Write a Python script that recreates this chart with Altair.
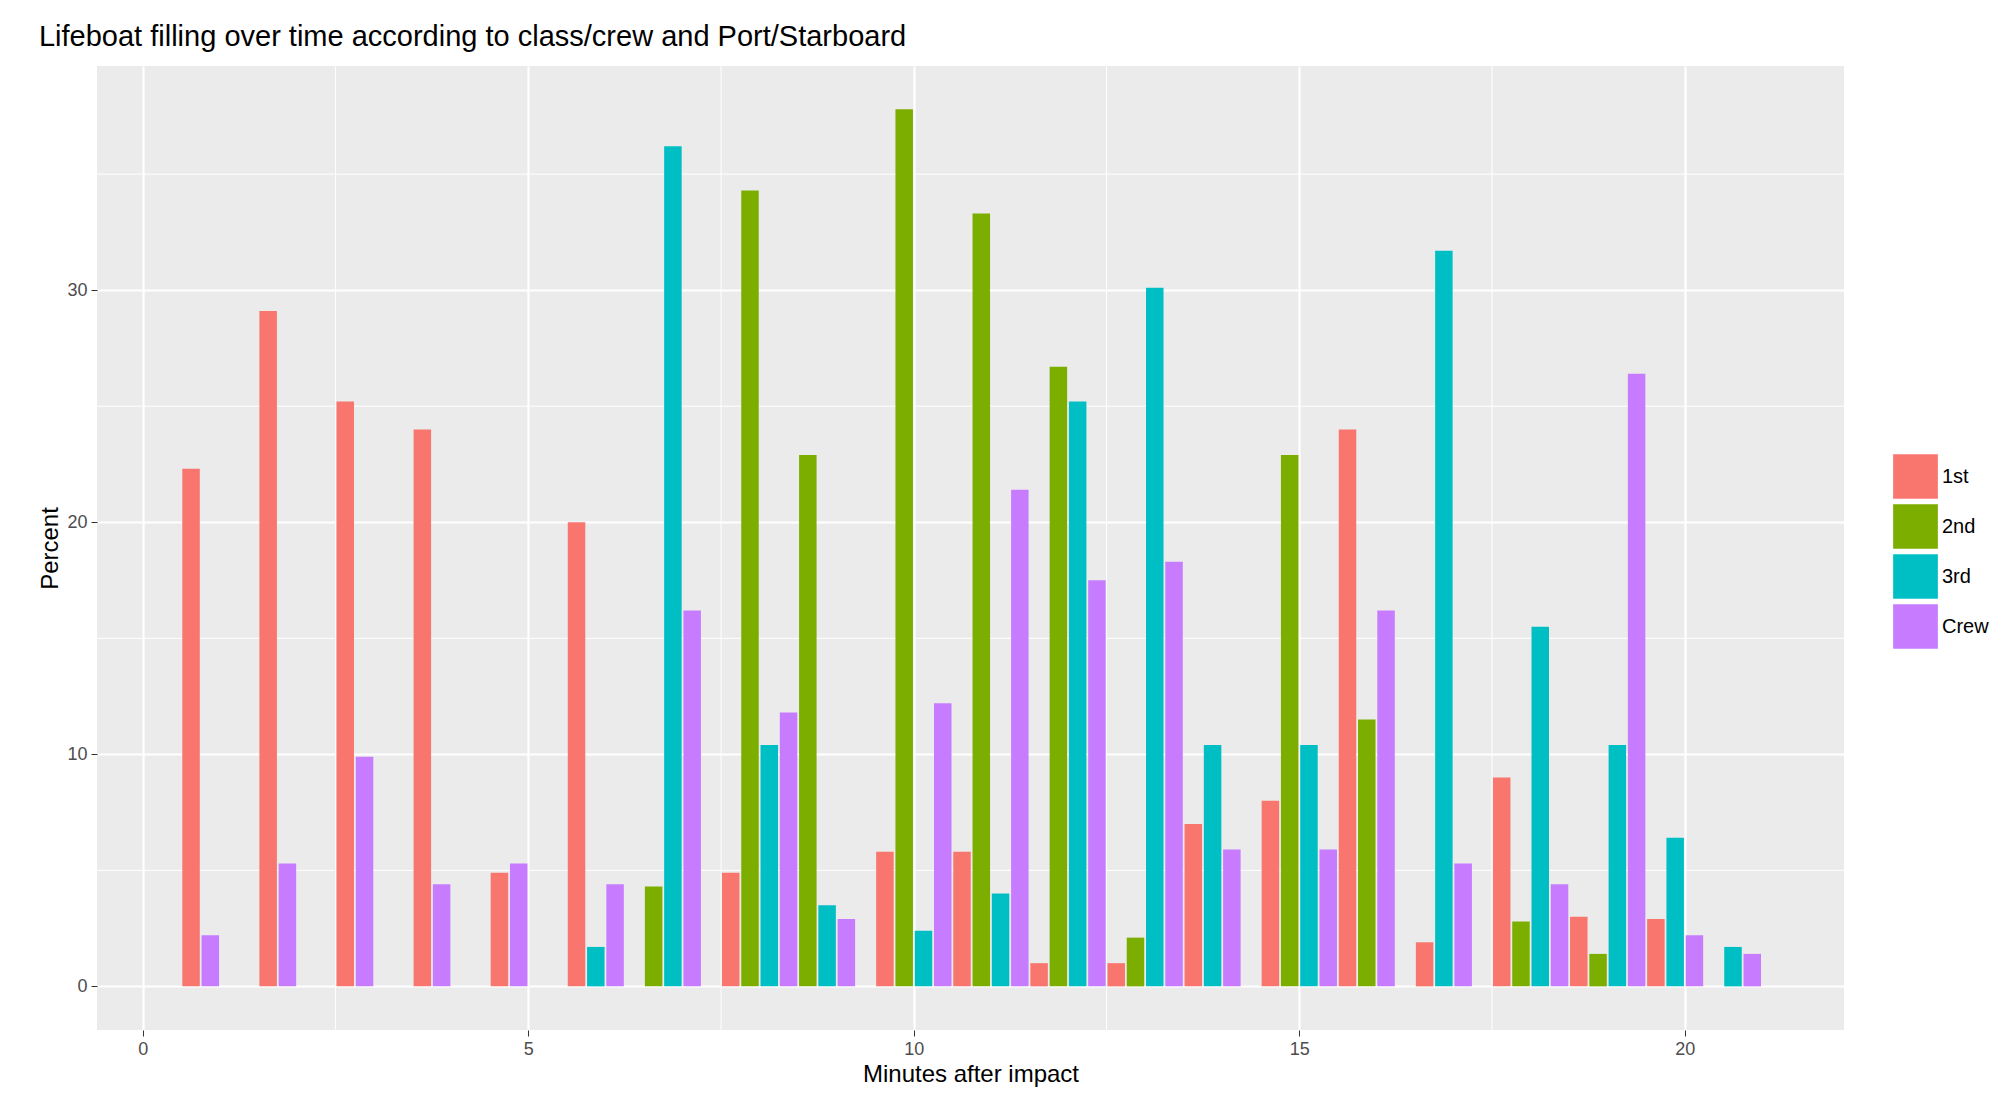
import altair as alt
import pandas as pd

# bar heights (percent) per minute and class
minutes = list(range(1, 22))
first = [22.3, 29.1, 25.2, 24.0, 4.9, 20.0, None, 4.9, None, 5.8, 5.8, 1.0, 1.0, 7.0, 8.0, 24.0, 1.9, 9.0, 3.0, 2.9, None]
second = [None, None, None, None, None, None, 4.3, 34.3, 22.9, 37.8, 33.3, 26.7, 2.1, None, 22.9, 11.5, None, 2.8, 1.4, None, None]
third = [None, None, None, None, None, 1.7, 36.2, 10.4, 3.5, 2.4, 4.0, 25.2, 30.1, 10.4, 10.4, None, 31.7, 15.5, 10.4, 6.4, 1.7]
crew = [2.2, 5.3, 9.9, 4.4, 5.3, 4.4, 16.2, 11.8, 2.9, 12.2, 21.4, 17.5, 18.3, 5.9, 5.9, 16.2, 5.3, 4.4, 26.4, 2.2, 1.4]

classes = ["1st", "2nd", "3rd", "Crew"]
colors = ["#F8766D", "#7CAE00", "#00BFC4", "#C77CFF"]

rows = []
for m, vals in zip(minutes, zip(first, second, third, crew)):
    i = 0
    for c, v in zip(classes, vals):
        if v is None:
            continue
        # bars packed from the left of each minute's slot (ggplot dodge look)
        rows.append({"pos": m - 0.375 + 0.25 * i, "Class": c, "Percent": v})
        i += 1
df = pd.DataFrame(rows)

xmin, xmax = -0.53, 22.0
ymin, ymax = -1.88, 39.66
W, H = 1747, 964

minor_x = pd.DataFrame({"v": [2.5, 7.5, 12.5, 17.5]})
minor_y = pd.DataFrame({"v": [5, 15, 25, 35]})

xs = alt.Scale(domain=[xmin, xmax], nice=False, zero=False)
ys = alt.Scale(domain=[ymin, ymax], nice=False, zero=False)

vgrid = alt.Chart(minor_x).mark_rule(color="white", strokeWidth=1).encode(
    x=alt.X("v:Q", scale=xs)
)
hgrid = alt.Chart(minor_y).mark_rule(color="white", strokeWidth=1).encode(
    y=alt.Y("v:Q", scale=ys)
)

bars = alt.Chart(df).mark_bar(size=17.5).encode(
    x=alt.X(
        "pos:Q", scale=xs, title="Minutes after impact",
        axis=alt.Axis(values=[0, 5, 10, 15, 20], format="d", grid=True,
                      gridColor="white", gridWidth=2.2),
    ),
    y=alt.Y(
        "Percent:Q", scale=ys, title="Percent",
        axis=alt.Axis(values=[0, 10, 20, 30], format="d", grid=True,
                      gridColor="white", gridWidth=2.2),
    ),
    color=alt.Color(
        "Class:N", scale=alt.Scale(domain=classes, range=colors),
        legend=alt.Legend(title=None, symbolType="square", symbolSize=2000,
                          symbolStrokeWidth=0, labelFontSize=20, labelColor="black",
                          rowPadding=5, orient="none", legendX=1796, legendY=388),
    ),
)

chart = (
    (vgrid + hgrid + bars)
    .properties(
        width=W, height=H,
        padding={"left": 30, "top": 14, "right": 5, "bottom": 5},
        title=alt.Title("Lifeboat filling over time according to class/crew and Port/Starboard",
                        anchor="start", fontSize=29, fontWeight="normal", color="black",
                        font="Liberation Sans", offset=14),
    )
    .configure_view(fill="#EBEBEB", stroke=None)
    .configure_axis(
        domain=False, tickColor="#333333", tickSize=6, labelColor="#4D4D4D",
        labelFontSize=18, titleFontSize=24, titleFontWeight="normal", titleColor="black",
        labelFont="Liberation Sans", titleFont="Liberation Sans", labelPadding=4,
    )
    .configure_legend(labelFont="Liberation Sans")
)

chart.save("out.html", embed_options={"renderer": "svg", "actions": False})
